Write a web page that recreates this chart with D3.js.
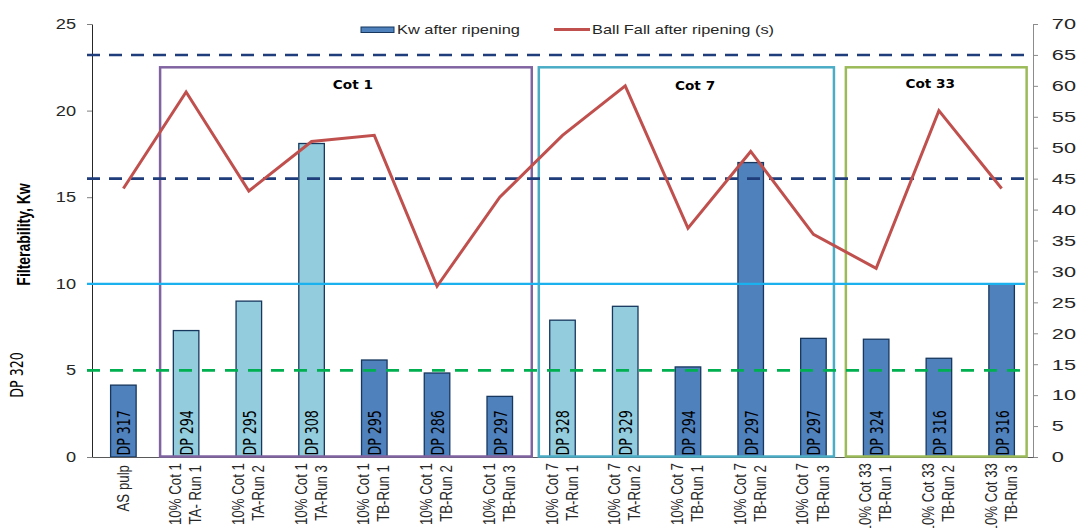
<!DOCTYPE html>
<html>
<head>
<meta charset="utf-8">
<script src="https://cdn.jsdelivr.net/npm/d3@7/dist/d3.min.js"></script>
<style>
  html, body { margin: 0; padding: 0; background: #fff; }
  svg { display: block; }
</style>
</head>
<body>
<svg id="chart" width="1083" height="528"></svg>
<script>
// ---------------- DATA ----------------
const categories = [
  "AS pulp",
  "10% Cot 1|TA- Run 1", "10% Cot 1|TA-Run 2", "10% Cot 1|TA-Run 3",
  "10% Cot 1|TB-Run 1", "10% Cot 1|TB-Run 2", "10% Cot 1|TB-Run 3",
  "10% Cot 7|TA-Run 1", "10% Cot 7|TA-Run 2", "10% Cot 7|TB-Run 1",
  "10% Cot 7|TB-Run 2", "10% Cot 7|TB-Run 3",
  "10% Cot 33|TB-Run 1", "10% Cot 33|TB-Run 2", "10% Cot 33|TB-Run 3"
];
const kwAfterRipening = [4.15, 7.3, 9.0, 18.1, 5.6, 4.85, 3.5, 7.9, 8.7, 5.2, 17.0, 6.85, 6.8, 5.7, 10.0];
const ballFallAfterRipening = [43.4, 59, 43, 51, 52, 27.6, 42, 52, 60, 37, 49.4, 36, 30.5, 56, 43.4];
const dpLabels = ["DP 317", "DP 294", "DP 295", "DP 308", "DP 295", "DP 286", "DP 297",
                  "DP 328", "DP 329", "DP 294", "DP 297", "DP 297", "DP 324", "DP 316", "DP 316"];
const barGroup = ["B", "A", "A", "A", "B", "B", "B", "A", "A", "B", "B", "B", "B", "B", "B"];
const leftTicks = [0, 5, 10, 15, 20, 25];
const rightTicks = [0, 5, 10, 15, 20, 25, 30, 35, 40, 45, 50, 55, 60, 65, 70];
const seriesNames = ["Kw after ripening", "Ball Fall after ripening (s)"];
const yAxisTitle = "Filterability, Kw";
const sideNote = "DP 320";
const boxNames = ["Cot 1", "Cot 7", "Cot 33"];
const boxFirst = [1, 7, 12];
const boxLast = [6, 11, 14];
const boxTopKw = 22.5;
const refRightDashed = [65, 45];   // on right axis
const refLeftSolid = [10];         // on left axis
const refLeftDashed = [5];         // on left axis

// ---------------- LAYOUT ----------------
const SX = 1.3; // horizontal text stretch of the original picture
const svg = d3.select("#chart");
const plotL = 92, plotR = 1033, plotT = 24, plotB = 457;

const x = d3.scaleBand().domain(categories).range([plotL, plotR])
  .paddingInner(0.593).paddingOuter(0.2965);
const yL = d3.scaleLinear().domain([0, 25]).range([plotB, plotT]);
const yR = d3.scaleLinear().domain([0, 70]).range([plotB, plotT]);
const cx = c => x(c) + x.bandwidth() / 2;

const fontMain = "'Liberation Sans', Arial, sans-serif";
const fontNarrow = "'Liberation Sans Narrow', 'DejaVu Sans Condensed', 'Liberation Sans', sans-serif";
const fontTitle = "'DejaVu Sans', Verdana, sans-serif";

// ---------------- BARS ----------------
const colorA = "#93cddd", colorB = "#4f81bd", barStroke = "#17375e";
svg.append("g").selectAll("rect").data(categories).join("rect")
  .attr("x", c => x(c))
  .attr("y", (c, i) => yL(kwAfterRipening[i]))
  .attr("width", x.bandwidth())
  .attr("height", (c, i) => yL(0) - yL(kwAfterRipening[i]))
  .attr("fill", (c, i) => barGroup[i] === "A" ? colorA : colorB)
  .attr("stroke", barStroke).attr("stroke-width", 1.3);

// DP labels inside bars
svg.append("g").selectAll("text").data(categories).join("text")
  .attr("transform", c => `translate(${cx(c)},${plotB - 1.5}) scale(${SX},1) rotate(-90)`)
  .attr("x", 0).attr("y", 5.3)
  .attr("font-family", fontNarrow).attr("font-size", 14)
  .attr("fill", "#000")
  .text((c, i) => dpLabels[i]);

// ---------------- AXES ----------------
const axL = svg.append("g").attr("transform", `translate(${plotL},0)`)
  .call(d3.axisLeft(yL).tickValues(leftTicks).tickSize(5).tickPadding(7.3).tickSizeOuter(0));
axL.select(".domain").attr("stroke", "#262626");
axL.selectAll(".tick line").attr("stroke", "#7f7f7f");
axL.selectAll(".tick text").attr("transform", `scale(${SX},1)`)
  .attr("font-family", fontMain).attr("font-size", 14).attr("fill", "#262626");

const axR = svg.append("g").attr("transform", `translate(${plotR},0)`)
  .call(d3.axisRight(yR).tickValues(rightTicks).tickSize(5).tickPadding(8).tickSizeOuter(0));
axR.select(".domain").attr("stroke", "#8c8c8c");
axR.selectAll(".tick line").attr("stroke", "#8c8c8c");
axR.selectAll(".tick text").attr("transform", `scale(1.45,1)`)
  .attr("font-family", fontMain).attr("font-size", 15).attr("fill", "#262626");

const axB = svg.append("g").attr("transform", `translate(0,${plotB})`)
  .call(d3.axisBottom(x).tickSize(0).tickSizeOuter(0).tickFormat(""));
axB.select(".domain").attr("stroke", "#595959");

// category labels (rotated, two lines)
const catG = svg.append("g").selectAll("g").data(categories).join("g")
  .attr("transform", c => `translate(${cx(c)},465) scale(${SX},1) rotate(-90)`);
catG.each(function (c) {
  const lines = c.split("|");
  const g = d3.select(this);
  const offs = lines.length === 1 ? [4.6] : [-3.8, 11.6];
  lines.forEach((ln, k) => {
    g.append("text").attr("x", k === 0 && lines.length > 1 ? 2 : 0).attr("y", offs[k])
      .attr("text-anchor", "end")
      .attr("font-family", fontMain).attr("font-size", 13.3).attr("fill", "#262626")
      .text(ln);
  });
});

// ---------------- BOXES ----------------
const boxColors = ["#8064a2", "#4bacc6", "#9bbb59"];
const boxPadL = [26, 23.7, 30.3], boxPadR = [32, 20.5, 25];
const titleShift = [7, 8.7, -6];
const titleBase = [89, 90, 88];
boxNames.forEach((name, i) => {
  const x0 = cx(categories[boxFirst[i]]) - boxPadL[i];
  const x1 = cx(categories[boxLast[i]]) + boxPadR[i];
  const yt = yL(boxTopKw);
  svg.append("rect").attr("x", x0).attr("y", yt)
    .attr("width", x1 - x0).attr("height", yL(0) - yt - 0.5)
    .attr("fill", "none").attr("stroke", boxColors[i]).attr("stroke-width", 2.5);
  svg.append("text")
    .attr("transform", `translate(${(x0 + x1) / 2 + titleShift[i]},${titleBase[i]}) scale(1.05,1)`)
    .attr("text-anchor", "middle")
    .attr("font-family", fontTitle).attr("font-weight", "bold").attr("font-size", 13)
    .attr("fill", "#000").text(name);
});

// ---------------- REFERENCE LINES ----------------
const refX0 = 87, refX1 = 1030;
refRightDashed.forEach(v => {
  svg.append("line").attr("x1", refX0).attr("x2", refX1).attr("y1", yR(v)).attr("y2", yR(v))
    .attr("stroke", "#1f3d7a").attr("stroke-width", 2.6).attr("stroke-dasharray", "13,9");
});
refLeftSolid.forEach(v => {
  svg.append("line").attr("x1", refX0).attr("x2", refX1 - 5).attr("y1", yL(v)).attr("y2", yL(v))
    .attr("stroke", "#1bb1ee").attr("stroke-width", 2.2);
});
refLeftDashed.forEach(v => {
  svg.append("line").attr("x1", refX0).attr("x2", refX1).attr("y1", yL(v)).attr("y2", yL(v))
    .attr("stroke", "#00b050").attr("stroke-width", 2.6).attr("stroke-dasharray", "13,10");
});

// ---------------- LINE SERIES ----------------
const line = d3.line().x((d, i) => cx(categories[i])).y(d => yR(d));
svg.append("path").datum(ballFallAfterRipening)
  .attr("d", line).attr("fill", "none")
  .attr("stroke", "#c0504d").attr("stroke-width", 3).attr("stroke-linejoin", "miter");

// ---------------- LEGEND ----------------
const lg = svg.append("g");
lg.append("rect").attr("x", 361).attr("y", 27).attr("width", 33).attr("height", 5.5)
  .attr("fill", colorB).attr("stroke", barStroke).attr("stroke-width", 1);
lg.append("text").attr("transform", `translate(397,34) scale(${SX},1)`)
  .attr("font-family", fontMain).attr("font-size", 12.6).attr("fill", "#262626")
  .text(seriesNames[0]);
lg.append("line").attr("x1", 554).attr("x2", 590).attr("y1", 29.5).attr("y2", 29.5)
  .attr("stroke", "#c0504d").attr("stroke-width", 3);
lg.append("text").attr("transform", `translate(592,34) scale(${SX},1)`)
  .attr("font-family", fontMain).attr("font-size", 12.6).attr("fill", "#262626")
  .text(seriesNames[1]);

// ---------------- AXIS TITLE & NOTE ----------------
svg.append("text")
  .attr("transform", `translate(30,${(180 + 289) / 2}) scale(${SX},1) rotate(-90)`)
  .attr("text-anchor", "middle")
  .attr("font-family", fontMain).attr("font-weight", "bold").attr("font-size", 14)
  .attr("fill", "#000").text(yAxisTitle);
svg.append("text")
  .attr("transform", `translate(23,375) scale(${SX},1) rotate(-90)`)
  .attr("text-anchor", "middle")
  .attr("font-family", fontNarrow).attr("font-size", 14)
  .attr("fill", "#000").text(sideNote);
</script>
</body>
</html>
